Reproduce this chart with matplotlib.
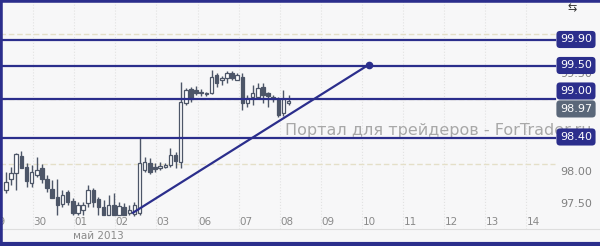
import matplotlib
matplotlib.use("Agg")
import matplotlib.pyplot as plt
import numpy as np

# 3-hour candles, 8 per day, starting 29 Apr
opens = [97.60, 97.77, 97.86, 98.12, 97.95, 97.71, 97.83, 97.94, 97.77, 97.62,
         97.49, 97.38, 97.57, 97.43, 97.25, 97.29, 97.40, 97.60, 97.46, 97.34,
         97.22, 97.37, 97.22, 97.34, 97.25, 97.23, 97.25, 97.91, 98.02, 97.95,
         97.94, 97.95, 97.98, 98.14, 98.03, 98.94, 99.15, 99.14, 99.09, 99.08,
         99.09, 99.37, 99.29, 99.32, 99.40, 99.29, 99.34, 98.94, 99.03, 99.03,
         99.18, 99.09, 99.03, 99.00, 98.78, 98.94]
highs = [97.88, 97.95, 98.17, 98.20, 98.02, 97.98, 98.11, 98.00, 97.83, 97.75,
         97.77, 97.60, 97.60, 97.48, 97.42, 97.42, 97.68, 97.63, 97.49, 97.45,
         97.52, 97.55, 97.42, 97.40, 97.37, 97.42, 98.40, 98.11, 98.09, 98.02,
         98.03, 98.02, 98.25, 98.18, 99.26, 99.17, 99.18, 99.20, 99.15, 99.11,
         99.45, 99.40, 99.35, 99.43, 99.43, 99.40, 99.40, 99.06, 99.22, 99.25,
         99.25, 99.11, 99.06, 99.03, 99.14, 99.06]
lows = [97.55, 97.68, 97.60, 97.94, 97.65, 97.65, 97.80, 97.71, 97.57, 97.48,
        97.22, 97.34, 97.37, 97.22, 97.22, 97.22, 97.34, 97.34, 97.22, 97.22,
        97.22, 97.22, 97.22, 97.22, 97.22, 97.20, 97.22, 97.88, 97.85, 97.88,
        97.91, 97.94, 97.95, 97.94, 97.94, 98.91, 98.95, 99.06, 99.05, 99.05,
        99.08, 99.18, 99.22, 99.25, 99.29, 99.29, 98.83, 98.88, 98.91, 99.02,
        98.94, 98.88, 98.95, 98.72, 98.74, 98.91]
closes = [97.72, 97.86, 98.15, 97.94, 97.74, 97.88, 97.91, 97.77, 97.63, 97.48,
          97.37, 97.52, 97.42, 97.25, 97.37, 97.37, 97.60, 97.42, 97.34, 97.22,
          97.37, 97.22, 97.35, 97.22, 97.29, 97.37, 98.02, 98.03, 97.88, 97.92,
          97.97, 97.98, 98.14, 98.05, 98.95, 99.14, 99.00, 99.09, 99.11, 99.09,
          99.34, 99.25, 99.32, 99.40, 99.32, 99.37, 98.94, 99.02, 99.09, 99.17,
          99.06, 99.05, 99.00, 98.75, 99.00, 98.97]
first_candle = 0.34      # in days from the 29th
candles_per_day = 8

day_labels = ["29", "30", "01", "02", "03", "06", "07", "08",
              "09", "10", "11", "12", "13", "14"]
month_label = "май 2013"

levels = [99.90, 99.50, 99.00, 98.40]
level_offsets = [0, 0, 7, 0]          # px shift of the price tags
last_price = 98.97
trend_x = [3.43, 9.17]
trend_y = [97.25, 99.53]
price_ticks = [97.50, 98.00, 99.50]   # the others sit under the tags
grid_prices = [98.00, 99.00, 100.00]
watermark = "Портал для трейдеров - ForTrader.ru"

navy = "#2b2e8c"
candle_col = "#4d5668"
bg = "#f7f7f8"

fig = plt.figure(figsize=(6, 2.46), dpi=100)
fig.patch.set_facecolor(bg)
ax = fig.add_axes([0, 0, 1, 1])
ax.set_facecolor(bg)
ax.set_xlim(0.195, 14.79)
ax.set_ylim(96.738, 100.523)
for s in ax.spines.values():
    s.set_visible(False)
ax.set_xticks([])
ax.set_yticks([])

# grid
for d in range(1, len(day_labels)):
    ax.axvline(d, ymin=(246 - 229) / 246, color="#e2e2e2", lw=0.8, ls=":", zorder=0)
for p in grid_prices:
    ax.axhline(p, xmax=555 / 600, color="#e4dfc8", lw=1.0, ls=(0, (4, 2)), zorder=0)
ax.axhline(96.738 + 17 / 65, color="#dedede", lw=0.8, zorder=0)

# watermark
ax.text(0.475, 98.40, watermark, transform=ax.get_yaxis_transform(),
        fontsize=11.5, color="#a8a8a8", va="bottom", ha="left", zorder=1)

# candles
opens = np.array(opens)
closes = np.array(closes)
xs = first_candle + np.arange(len(opens)) / candles_per_day
ax.vlines(xs, lows, highs, color=candle_col, lw=1.0, zorder=3)
up = closes >= opens
bottoms = np.minimum(opens, closes)
heights = np.maximum(np.abs(closes - opens), 0.015)
ax.bar(xs[up], heights[up], bottom=bottoms[up], width=0.085,
       facecolor="white", edgecolor=candle_col, lw=0.9, zorder=4)
ax.bar(xs[~up], heights[~up], bottom=bottoms[~up], width=0.085,
       facecolor=candle_col, edgecolor=candle_col, lw=0.9, zorder=4)

# levels and trend line
for lv in levels:
    ax.axhline(lv, xmax=555 / 600, color=navy, lw=1.6, zorder=5)
ax.plot(trend_x, trend_y, color=navy, lw=1.6, zorder=5)
ax.plot(trend_x[-1], trend_y[-1], "o", color=navy, ms=4.5, zorder=6)

# price axis labels
for p in price_ticks:
    ax.annotate(f"{p:.2f}", xy=(0.96, p), xycoords=("axes fraction", "data"),
                xytext=(0, -8), textcoords="offset pixels", ha="center",
                va="center", fontsize=8, color="#808080", zorder=2)

for lv, off in zip(levels, level_offsets):
    ax.annotate(f"{lv:.2f}", xy=(0.96, lv), xycoords=("axes fraction", "data"),
                xytext=(0, off + 1), textcoords="offset pixels", ha="center",
                va="center", fontsize=8, color="white", zorder=8,
                bbox=dict(boxstyle="round,pad=0.32", fc=navy, ec="none"))
ax.annotate(f"{last_price:.2f}", xy=(0.96, last_price),
            xycoords=("axes fraction", "data"), xytext=(0, -8),
            textcoords="offset pixels", ha="center", va="center", fontsize=8,
            color="white", zorder=8,
            bbox=dict(boxstyle="round,pad=0.32", fc="#5a6779", ec="none"))

# date labels
for i, lab in enumerate(day_labels):
    ax.text(i + 0.17, 1 - 222 / 246, lab, transform=ax.get_xaxis_transform(),
            ha="center", va="center", fontsize=7.5, color="#8a8a8a")
ax.text(2.6, 1 - 236 / 246, month_label, transform=ax.get_xaxis_transform(),
        ha="center", va="center", fontsize=7.5, color="#8a8a8a")

# icon top right
ax.text(572 / 600, 1 - 8 / 246, "⇆", transform=ax.transAxes, ha="center",
        va="center", fontsize=8, color="#333333")

# frame
ax.axvline(0.195, color=navy, lw=4, zorder=9)
ax.axhline(100.523, color=navy, lw=4, zorder=9)
ax.axhline(96.738 + 2 / 65, color=navy, lw=3, zorder=9)

fig.savefig("out.png", dpi=100, facecolor=bg)
